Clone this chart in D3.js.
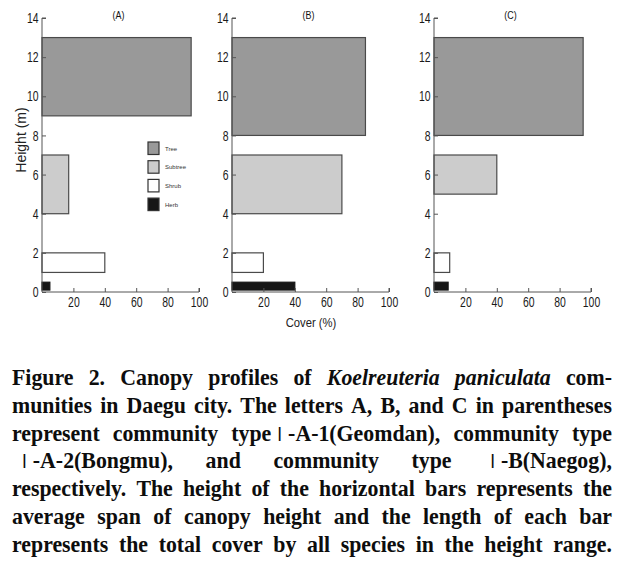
<!DOCTYPE html>
<html><head><meta charset="utf-8">
<script src="https://cdn.jsdelivr.net/npm/d3@7"></script>
<style>
html,body{margin:0;padding:0;background:#fff;}
svg{display:block;}
</style>
</head><body>
<svg id="chart" width="621" height="566"></svg>
<script>
// ---- data ----
const panels = ["(A)", "(B)", "(C)"];
const layers = ["Tree", "Subtree", "Shrub", "Herb"];
const layerColors = ["#999999", "#cccccc", "#ffffff", "#161616"];
// cover (%) per layer, per panel
const coverA = [95, 17, 40, 5];
const coverB = [85, 70, 20, 40];
const coverC = [95, 40, 10, 9];
// height range (m) per layer, per panel
const lowA = [9, 4, 1, 0.1];
const highA = [13, 7, 2, 0.5];
const lowB = [8, 4, 1, 0.1];
const highB = [13, 7, 2, 0.5];
const lowC = [8, 5, 1, 0.1];
const highC = [13, 7, 2, 0.5];
const yTicks = [0, 2, 4, 6, 8, 10, 12, 14];
const xTicks = [20, 40, 60, 80, 100];
const captionLines = [
  "Figure 2. Canopy profiles of Koelreuteria paniculata com-",
  "munities in Daegu city. The letters A, B, and C in parentheses",
  "represent community typeⅠ-A-1(Geomdan), community type",
  "Ⅰ-A-2(Bongmu), and community type Ⅰ-B(Naegog),",
  "respectively. The height of the horizontal bars represents the",
  "average span of canopy height and the length of each bar",
  "represents the total cover by all species in the height range."
];
const italicWords = ["Koelreuteria", "paniculata"];

const covers = [coverA, coverB, coverC];
const lows = [lowA, lowB, lowC];
const highs = [highA, highB, highC];

const svg = d3.select("#chart");
const axisFont = "'Liberation Sans',Arial,sans-serif";
const panelLeft = [42, 232, 434];
const pw = 157;
const tsx = 0.72; // horizontal condensing of tick labels
const y = d3.scaleLinear().domain([0, 14]).range([292, 18]);

panels.forEach((name, p) => {
  const x = d3.scaleLinear().domain([0, 100]).range([panelLeft[p], panelLeft[p] + pw]);
  const g = svg.append("g");
  // bars
  layers.forEach((L, i) => {
    g.append("rect")
      .attr("x", x(0))
      .attr("y", y(highs[p][i]))
      .attr("width", x(covers[p][i]) - x(0))
      .attr("height", y(lows[p][i]) - y(highs[p][i]))
      .attr("fill", layerColors[i])
      .attr("stroke", i === 3 ? "#161616" : "#4a4a4a")
      .attr("stroke-width", 1.2);
  });
  // y axis
  const ya = g.append("g").attr("transform", `translate(${x(0)},0)`)
    .call(d3.axisRight(y).tickValues(yTicks).tickSize(4).tickFormat(d3.format("d")));
  ya.select(".domain").attr("stroke", "#555").attr("d", `M4,${y(14)}H0V${y(0)}`);
  ya.selectAll(".tick line").attr("stroke", "#555");
  ya.selectAll(".tick text").attr("x", -3.5 / tsx).attr("text-anchor", "end")
    .attr("transform", `scale(${tsx},1)`)
    .style("font-family", axisFont).style("font-size", "14.5px").attr("fill", "#1a1a1a");
  // x axis
  const xa = g.append("g").attr("transform", `translate(0,${y(0)})`)
    .call(d3.axisBottom(x).tickValues(xTicks).tickSize(-4).tickFormat(d3.format("d")));
  xa.select(".domain").attr("stroke", "#555").attr("d", `M${x(0)},0H${x(100)}V-4`);
  xa.selectAll(".tick line").attr("stroke", "#555");
  xa.selectAll(".tick text").attr("y", 5)
    .attr("transform", `scale(${tsx},1)`)
    .style("font-family", axisFont).style("font-size", "14.5px").attr("fill", "#1a1a1a");
  // title
  g.append("text").attr("transform", `translate(${x(50) - 2},19) scale(0.85,1)`)
    .attr("text-anchor", "middle")
    .style("font-family", axisFont).style("font-size", "10.5px").attr("fill", "#111").text(name);
});

// axis labels
svg.append("text").attr("transform", "translate(26,140) rotate(-90)")
  .attr("text-anchor", "middle").style("font-family", axisFont)
  .style("font-size", "14px").attr("fill", "#222").text("Height (m)");
svg.append("text").attr("transform", "translate(311,327) scale(0.9,1)").attr("text-anchor", "middle")
  .style("font-family", axisFont).style("font-size", "12.5px").attr("fill", "#222").text("Cover (%)");

// legend
const lg = svg.append("g");
layers.forEach((L, i) => {
  const yy = 142 + i * 18.7;
  lg.append("rect").attr("x", 148).attr("y", yy).attr("width", 11).attr("height", 12.5)
    .attr("fill", layerColors[i]).attr("stroke", "#333").attr("stroke-width", 1.2);
  lg.append("text").attr("x", 165).attr("y", yy + 8.5)
    .style("font-family", axisFont).style("font-size", "6px").attr("fill", "#333").text(L);
});

// caption, justified
const capLeft = 12, capRight = 612, sx = 0.91;
const cg = svg.append("g").style("font-family", "'Liberation Serif','Times New Roman',serif")
  .style("font-size", "24px").style("font-weight", "bold").attr("fill", "#0d0d0d");
captionLines.forEach((line, li) => {
  const by = 385 + li * 27.8;
  const words = line.split(/ +/).filter(w => w.length);
  const lead = li === 3 ? 4 : 0;
  const nodes = words.map(w => {
    const t = cg.append("text").attr("y", by);
    if (italicWords.includes(w)) t.style("font-style", "italic");
    // split around the Roman numeral
    const parts = w.split(/(Ⅰ)/).filter(s => s.length);
    parts.forEach(s => {
      const ts = t.append("tspan").text(s);
      if (s === "Ⅰ") ts.style("font-family", "'Noto Sans CJK KR','Noto Sans CJK SC',sans-serif")
        .style("font-weight", "normal").style("font-size", "18.5px");
    });
    return t;
  });
  const widths = nodes.map(n => n.node().getComputedTextLength() * sx);
  const total = d3.sum(widths);
  const gap = (capRight - capLeft - lead - total) / (words.length - 1);
  let cx = capLeft + lead;
  nodes.forEach((n, k) => {
    n.attr("transform", `translate(${cx},0) scale(${sx},1)`);
    cx += widths[k] + gap;
  });
});
</script>
</body></html>
